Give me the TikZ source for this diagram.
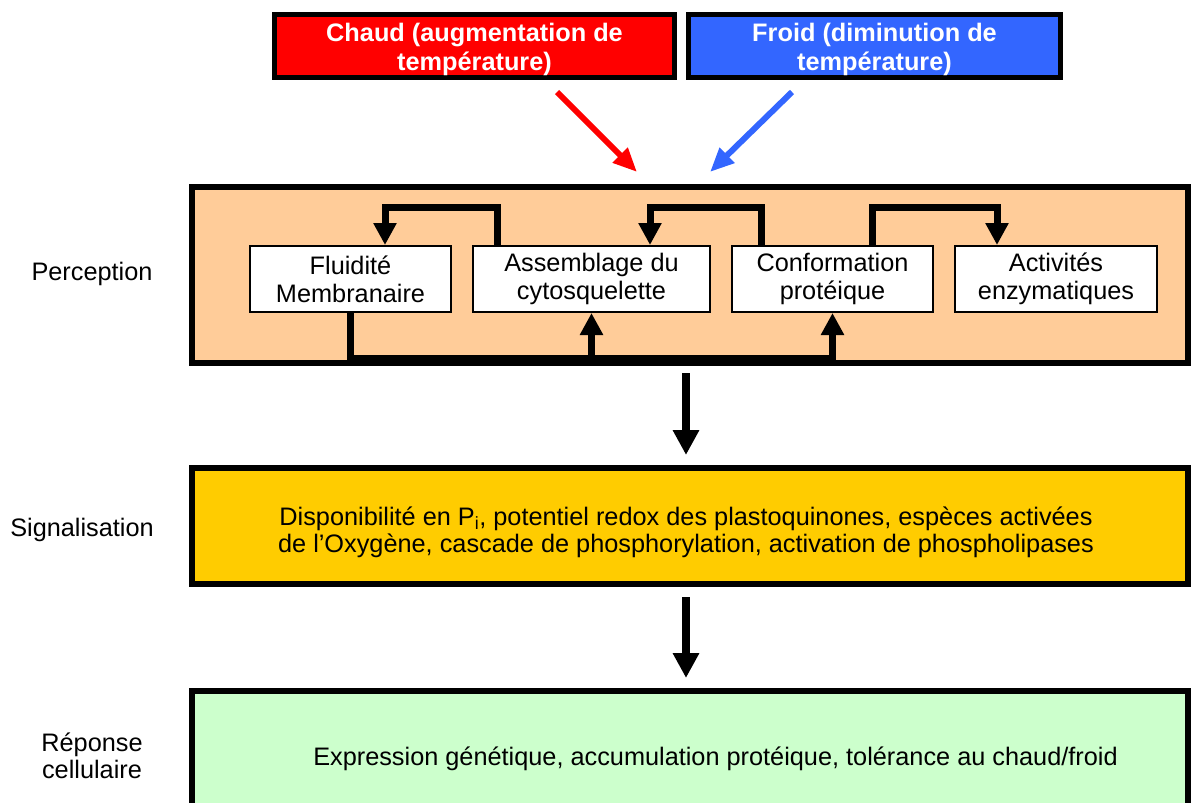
\documentclass[tikz,border=0pt]{standalone}
\usepackage{fontspec}
\setmainfont{Liberation Sans}
\usetikzlibrary{arrows.meta,calc}
\definecolor{hotred}{HTML}{FF0000}
\definecolor{coldblue}{HTML}{3366FF}
\definecolor{peach}{HTML}{FFCC99}
\definecolor{amber}{HTML}{FFCC00}
\definecolor{mint}{HTML}{CCFFCC}
\begin{document}
\begin{tikzpicture}[x=1pt,y=-1pt,
  txt/.style={font=\fontsize{25.3}{27.5}\selectfont, align=center, inner sep=0pt},
  stimbox/.style={draw=black, line width=5pt, minimum height=63pt, inner sep=0pt},
  stimtxt/.style={text=white, align=center, inner sep=0pt, font=\fontsize{25.3}{29}\selectfont\bfseries},
  stagebox/.style={draw=black, line width=6pt},
  subbox/.style={draw=black, line width=2pt, fill=white, minimum height=66pt, inner sep=0pt,
    align=center, font=\fontsize{25.3}{28}\selectfont},
  conn/.style={line width=7pt, line join=miter, -{Triangle[length=22pt,width=22pt]}},
  bigarrow/.style={line width=8pt, -{Triangle[length=25pt,width=25pt]}},
  stimarrow/.style={line width=6pt, -{Triangle[length=24pt,width=20pt]}}
]
\path[use as bounding box] (0,0) rectangle (1192,803);
\clip (0,0) rectangle (1192,803);

% stimulus boxes
\node[stimbox, fill=hotred, minimum width=400pt] (chaud) at (474.5,46) {};
\node[stimbox, fill=coldblue, minimum width=372pt] (froid) at (874.5,46) {};
\node[stimtxt] (chaudtxt) at (474.5,49) {Chaud (augmentation de\\temp\'erature)};
\node[stimtxt] (froidtxt) at (874.5,49) {Froid (diminution de\\temp\'erature)};

% stage boxes
\node[stagebox, fill=peach, minimum width=996pt, minimum height=176pt] (perc) at (690,275) {};
\node[stagebox, fill=amber, minimum width=996pt, minimum height=116pt] (sig) at (690,526) {};
\node[stagebox, fill=mint, minimum width=996pt, minimum height=160pt] (rep) at (690,771) {};

% stimulus arrows
\coordinate (hotend) at (637,172);
\coordinate (coldend) at (710,172);
\draw[stimarrow, hotred] (557,92) -- (hotend);
\draw[stimarrow, coldblue] (792,92) -- (coldend);

% sub boxes
\node[subbox, minimum width=201pt] (flu) at (350.5,279) {Fluidit\'e\\Membranaire};
\node[subbox, minimum width=237pt] (ass) at (591.5,279) {Assemblage du\\cytosquelette};
\node[subbox, minimum width=201pt] (conf) at (832.5,279) {Conformation\\prot\'eique};
\node[subbox, minimum width=202pt] (act) at (1056,279) {Activit\'es\\enzymatiques};

% internal connectors
\coordinate (bus) at (0,358);
\draw[conn] ([xshift=25pt]ass.north west) -- ++(0,-38) -| ([xshift=136pt]flu.north west);
\draw[conn] ([xshift=30pt]conf.north west) -- ++(0,-38) -| ([xshift=178pt]ass.north west);
\draw[conn] ([xshift=141pt]conf.north west) -- ++(0,-38) -| ([xshift=43pt]act.north west);
\draw[conn] ([xshift=101pt]flu.south west) |- (bus -| conf.south) -- (conf.south);
\draw[conn] (bus -| ass.south) -- (ass.south);

% stage arrows
\draw[bigarrow] (686,373) -- (686,455);
\draw[bigarrow] (686,597) -- (686,678);

% texts
\node[txt] (sigtxt) at (686,532.5) {Disponibilit\'e en P\textsubscript{i}, potentiel redox des plastoquinones, esp\`eces activ\'ees\\de l'Oxyg\`ene, cascade de phosphorylation, activation de phospholipases};
\node[txt] (reptxt) at (715.5,759) {Expression g\'en\'etique, accumulation prot\'eique, tol\'erance au chaud/froid};

% stage labels
\node[txt] (lperc) at (92,274) {Perception};
\node[txt] (lsig) at (82,529.5) {Signalisation};
\node[txt] (lrep) at (92,756) {R\'eponse\\cellulaire};
\end{tikzpicture}
\end{document}
